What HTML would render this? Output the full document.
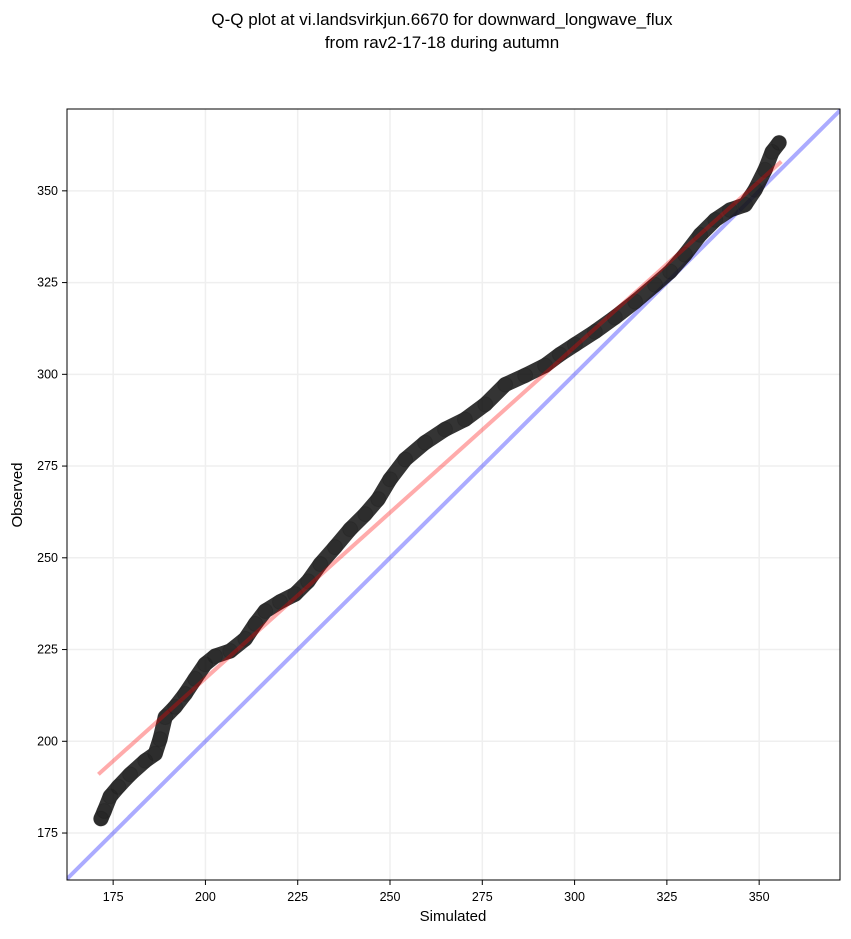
<!DOCTYPE html>
<html><head><meta charset="utf-8"><style>
body{margin:0;background:#fff;width:851px;height:934px;overflow:hidden}
svg text{font-family:"Liberation Sans","DejaVu Sans",sans-serif}
</style></head><body>
<svg id="c" width="851" height="934">
<text x="442" y="25" text-anchor="middle" font-size="17">Q-Q plot at vi.landsvirkjun.6670 for downward_longwave_flux</text>
<text x="442" y="48" text-anchor="middle" font-size="17">from rav2-17-18 during autumn</text>
<g id="grid"></g>
<g id="plot" clip-path="url(#clip)"></g>
<clipPath id="clip"><rect x="67" y="109" width="773" height="771"/></clipPath>
<rect x="67" y="109" width="773" height="771" fill="none" stroke="#000" stroke-width="1"/>
<g id="ticks"></g>
<text x="453" y="921" text-anchor="middle" font-size="15">Simulated</text>
<text x="22" y="495" text-anchor="middle" font-size="15" transform="rotate(-90 22 495)">Observed</text>
</svg>
<script>
const xTicks=[175,200,225,250,275,300,325,350];
const yTicks=[175,200,225,250,275,300,325,350];
const simulated=[171.7,172.6,174.2,176.4,179.6,183.7,186.4,187.7,189.1,191.8,194.5,197.2,199.9,202.6,206.7,210.8,213.5,216.2,220.2,224.3,227.8,231.1,235.1,239.2,243.3,246.8,250,254.1,259.5,264.9,270.3,275.8,281.2,286.6,292,296,300.1,305.5,310.9,316.4,321.8,325.9,329.9,334,338.1,342.1,346.2,348.9,351.6,353.5,355.4];
const observed=[178.9,181,185,187.6,191,194.7,196.6,200.6,206.6,209.4,212.9,217,221,223.2,224.6,227.9,232,235.5,238,240.1,243.6,248.3,252.9,257.8,261.9,266,271.4,276.8,281.4,285,287.7,291.8,297.2,299.7,302.4,305.4,308.1,311.6,315.5,319.8,324.4,328,332.6,338,342.1,344.8,346.2,350.3,355.7,360.6,363.1];
const fitLine=[[171,191],[356,358]];
const X0=162.5,X1=371.9,Y0=162.2,Y1=372.3;
const sx=v=>67+(v-X0)/(X1-X0)*773;
const sy=v=>880-(v-Y0)/(Y1-Y0)*771;
const NS="http://www.w3.org/2000/svg";
function mk(t,a,p){const e=document.createElementNS(NS,t);for(const k in a)e.setAttribute(k,a[k]);p.appendChild(e);return e;}
const grid=document.getElementById('grid'),plot=document.getElementById('plot'),ticks=document.getElementById('ticks');
xTicks.forEach(v=>{
 const g=mk('line',{x1:sx(v),x2:sx(v),y1:109,y2:880,stroke:'#efefef','stroke-width':1.5},grid);
 
 
 const t=mk('line',{x1:sx(v),x2:sx(v),y1:880,y2:885,stroke:'#000'},ticks);
 
 
 const l=mk('text',{x:sx(v),y:901,'text-anchor':'middle','font-size':12.5},ticks);l.textContent=v;
 
 
});
yTicks.forEach(v=>{
 const g=mk('line',{y1:sy(v),y2:sy(v),x1:67,x2:840,stroke:'#efefef','stroke-width':1.5},grid);
 
 
 const t=mk('line',{y1:sy(v),y2:sy(v),x1:62,x2:67,stroke:'#000'},ticks);
 
 
 const l=mk('text',{x:58,y:sy(v)+4,'text-anchor':'end','font-size':12.5},ticks);l.textContent=v;
 
 
});
const b=mk('line',{x1:sx(X0),y1:sy(X0),x2:sx(380),y2:sy(380),stroke:'#0000ff','stroke-opacity':0.33,'stroke-width':4},plot);


const pts=simulated.map((s,i)=>sx(s)+','+sy(observed[i])).join(' ');
const pl=mk('polyline',{points:pts,fill:'none',stroke:'#111','stroke-opacity':0.85,'stroke-width':15,'stroke-linejoin':'round','stroke-linecap':'round'},plot);


simulated.forEach((s,i)=>{
 const c=mk('circle',{cx:sx(s),cy:sy(observed[i]),r:7.5,fill:'#000','fill-opacity':0.12,stroke:'#000','stroke-opacity':0.1},plot);
 
 
});
const r=mk('line',{x1:sx(fitLine[0][0]),y1:sy(fitLine[0][1]),x2:sx(fitLine[1][0]),y2:sy(fitLine[1][1]),stroke:'#ff0000','stroke-opacity':0.33,'stroke-width':4},plot);


</script>
</body></html>
